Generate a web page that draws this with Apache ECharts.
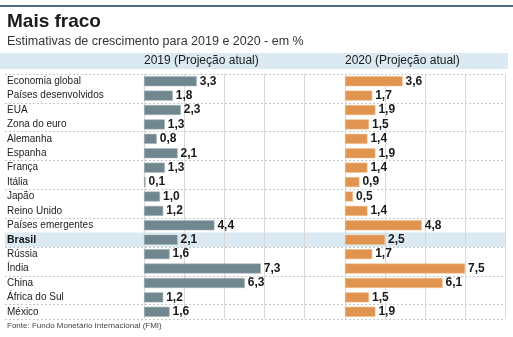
<!DOCTYPE html>
<html><head><meta charset="utf-8">
<script src="https://cdn.jsdelivr.net/npm/echarts@6/dist/echarts.min.js"></script>
<style>html,body{margin:0;padding:0;background:#fff}#c{width:513px;height:337px}</style>
</head><body><div id="c"></div>
<script>
const categories = ["Economia global","Países desenvolvidos","EUA","Zona do euro","Alemanha","Espanha","França","Itália","Japão","Reino Unido","Países emergentes","Brasil","Rússia","Índia","China","África do Sul","México"];
const values2019 = [3.3,1.8,2.3,1.3,0.8,2.1,1.3,0.1,1.0,1.2,4.4,2.1,1.6,7.3,6.3,1.2,1.6];
const values2020 = [3.6,1.7,1.9,1.5,1.4,1.9,1.4,0.9,0.5,1.4,4.8,2.5,1.7,7.5,6.1,1.5,1.9];
const highlighted = "Brasil";
const xTicks = [0, 2.5, 5, 7.5, 10];
const panelTitles = ["2019 (Projeção atual)", "2020 (Projeção atual)"];
const titleText = "Mais fraco";
const subtitleText = "Estimativas de crescimento para 2019 e 2020 - em %";
const sourceText = "Fonte: Fundo Monetário Internacional (FMI)";

const FONT = "'Liberation Sans',Arial,sans-serif";
const chart = echarts.init(document.getElementById('c'), null, {renderer:'canvas'});
const fmt = v => Number(v).toFixed(1).replace('.', ',');
const TOP = 74, H = 245;

function valueAxis(gi){
  return {gridIndex: gi, type:'value', min: xTicks[0], max: xTicks[xTicks.length-1], interval: xTicks[1]-xTicks[0],
    axisLabel:{show:false}, axisLine:{show:false}, axisTick:{show:false}, z:3,
    splitLine:{show:true, lineStyle:{color:'#d9d9d9', width:1, type:'solid'}}};
}
function catAxis(gi, extra){
  return Object.assign({gridIndex: gi, type:'category', data: categories, inverse:true,
    axisLine:{show:false}, axisTick:{show:false}, axisLabel:{show:false}, splitLine:{show:false}, z:3}, extra||{});
}
const labelStyle = {show:true, position:'right', distance:3, formatter: p => fmt(p.value),
  fontFamily: FONT, fontWeight:'bold', fontSize:12, color:'#1a1a1a'};

chart.setOption({
  animation:false,
  backgroundColor:'#fff',
  grid:[
    {left:144, top:TOP, width:160, height:H},
    {left:345, top:TOP, width:160, height:H},
    {left:5, top:TOP, width:500, height:H}
  ],
  xAxis:[valueAxis(0), valueAxis(1),
    {gridIndex:2, type:'value', min:0, max:1, show:false}],
  yAxis:[
    catAxis(0, {axisLabel:{show:true, align:'left', margin:137, fontFamily:FONT, fontSize:10, color:'#222',
      formatter: v => v === highlighted ? '{b|' + v + '}' : v,
      rich:{b:{fontWeight:'bold', fontFamily:FONT, fontSize:10.5, color:'#111'}}}}),
    catAxis(1),
    catAxis(2, {splitLine:{show:true, lineStyle:{color:'#c8c8c8', width:1, type:[2,2]}}})
  ],
  series:[
    {type:'bar', xAxisIndex:2, yAxisIndex:2, silent:true, z:1, barWidth:'100%',
      itemStyle:{color:'#dbe9f2'},
      data: categories.map(c => c === highlighted ? 1 : null)},
    {type:'bar', xAxisIndex:0, yAxisIndex:0, z:5, barWidth:10, data: values2019,
      itemStyle:{color:'#71878f', borderColor:'#a9b7bc', borderWidth:0.5}, label:labelStyle},
    {type:'bar', xAxisIndex:1, yAxisIndex:1, z:5, barWidth:10, data: values2020,
      itemStyle:{color:'#e0944f', borderColor:'#f0c08e', borderWidth:0.5}, label:labelStyle}
  ],
  graphic:[
    {type:'rect', left:0, top:5, shape:{width:513, height:2}, style:{fill:'#4b6c85'}, z:10},
    {type:'rect', left:0, top:53, shape:{width:508, height:16}, style:{fill:'#dbe9f2'}, z:0},
    {type:'text', left:7, top:12, style:{text:titleText, font:"bold 19px " + FONT, fill:'#1a1a1a'}},
    {type:'text', left:7, top:35, style:{text:subtitleText, font:"12.5px " + FONT, fill:'#333'}},
    {type:'text', left:144, top:55, style:{text:panelTitles[0], font:"12px " + FONT, fill:'#1a1a1a'}},
    {type:'text', left:345, top:55, style:{text:panelTitles[1], font:"12px " + FONT, fill:'#1a1a1a'}},
    {type:'text', left:7, top:322, style:{text:sourceText, font:"8px " + FONT, fill:'#444'}}
  ]
});
</script></body></html>
